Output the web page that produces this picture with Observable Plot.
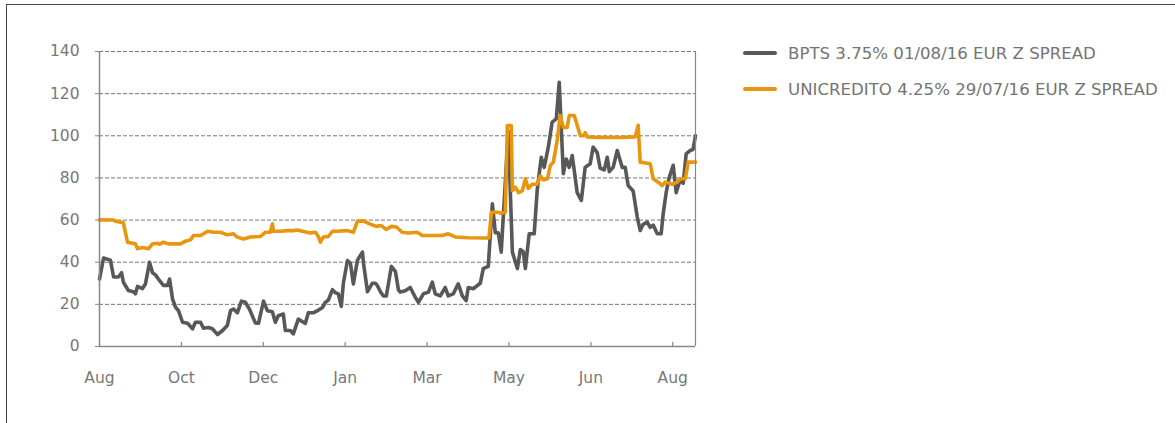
<!DOCTYPE html>
<html>
<head>
<meta charset="utf-8">
<script src="https://cdn.jsdelivr.net/npm/d3@7"></script>
<script src="https://cdn.jsdelivr.net/npm/@observablehq/plot@0.6"></script>
<style>
  html, body { margin: 0; padding: 0; background: #fff; }
  #wrap { position: relative; width: 1175px; height: 423px; overflow: hidden; font-family: "DejaVu Sans", Verdana, sans-serif; }
  #frame { position: absolute; left: 6px; top: 4px; width: 1200px; height: 500px; border-top: 1px solid #444; border-left: 1px solid #444; pointer-events: none; }
  .leg { position: absolute; left: 743px; height: 20px; display: flex; align-items: center; font-size: 16.6px; color: #747474; white-space: nowrap; }
  .sw { width: 34px; height: 4px; border-radius: 2px; margin-right: 11px; }
</style>
</head>
<body>
<div id="wrap">
  <div id="chart"></div>
  <div id="frame"></div>
  <div class="leg" style="top:43px"><div class="sw" style="background:#58585a"></div><span id="l1"></span></div>
  <div class="leg" style="top:79px"><div class="sw" style="background:#e8950f"></div><span id="l2"></span></div>
</div>
<script>
// Series names
const seriesNames = ["BPTS 3.75% 01/08/16 EUR Z SPREAD", "UNICREDITO 4.25% 29/07/16 EUR Z SPREAD"];

// BPTS: trading-day index and spread (bp)
const bptsT = [0,1.8,4.8,6.2,8.3,9.7,10.5,12.7,14.9,15.8,16.7,18.9,20.2,22,23.3,24.6,25.9,28.1,29.9,30.8,32.1,33.4,34.7,36.5,38.7,40.9,42.2,44.4,45.7,47.9,49.6,51.9,54.1,56.2,57.6,58.9,60.6,62.4,64.1,65.9,68.5,69.9,72.1,73.8,76,77.3,78.6,80.8,81.7,83.9,85.2,87.4,89.6,90.5,91.8,94,95.8,98,99.3,100.6,102.4,103.7,105,106.3,107.2,109,110.3,111.6,113.4,115.6,116,117.8,119.9,121.3,122.1,123.5,124.8,126.1,128.3,130.1,131.4,132.2,134.4,136.6,138.8,140.2,142.4,144.6,146.3,147.6,149.8,152,153.3,155.5,157.7,159.5,161.2,162.1,164.3,167.4,168.7,170.9,172.7,174,175.3,176.6,177.9,179.7,181.5,183.7,185,186.3,187.2,188.9,191.1,192.4,194.2,195.5,197.3,199,200.8,202.1,203.9,205.2,206.5,207.8,208.7,210,211.8,213.5,215.7,217,218.8,220.1,221.9,223.2,224.1,225.8,227.6,229.8,231.1,232.4,234.6,236.4,237.7,239,240.8,242.1,243.4,245.2,246.9,247.8,249.1,250.4,252.2,253.5,255.2,256.6,257.9,259.6,260.9,262];
const bptsV = [32,42,41,33,33,35,30.5,26.6,26,25,28.5,27.5,29.7,40,35,34,32,29,29,32,22.6,18.7,17,11.5,11,8.4,11.5,11.5,8.7,9,8.4,5.7,7.6,10,17,17.8,16,21.5,21,17.8,11.2,11,21.5,17,16.5,11.5,14.6,15.4,7.6,7.6,6,13,11.5,11,16,16,17,18.5,21,22,27,25.5,25,19,30,40.8,39.5,29.7,41,44.8,40,26,30,30,29,26,24,24,38,35.5,27,25.8,26.5,28,23.4,21,25,25.8,30.5,25,24,28,24,25,29.7,24,21.8,28,27.4,30,37,38,67.7,54,54,44.8,69,102,44.8,37,46,45,37,53.5,53.5,74,89.8,85,94.6,106.5,108,125.4,82,89,85,90.6,83.5,73,69.3,85,86.7,94.6,92,84.6,83.8,89.8,83,85,93,85,85,76.4,73.8,61.4,55,58,59,56.5,57.6,53.5,53.5,63,73,80,86,73,79,77.5,91.4,93,93.5,100];

// UNICREDITO: trading-day index and spread (bp)
const uniT = [0,6.2,7,10.5,12.3,14.5,15.8,16.7,18.9,21.5,23.3,25.5,26.4,28.1,30.3,35.6,37.8,40,41.3,44.4,45.7,47.5,50.1,53.2,56.2,58.9,60.6,63.3,66.4,70.7,72.9,75.1,76,76.5,79.5,82.6,85.2,87,89.2,92.7,94.9,96.2,97.1,98.4,100.6,102.4,104.5,109,111.6,113.4,116,118.7,121.7,123.9,126.1,128.3,130.5,133.1,135.7,139.7,141.9,144.6,150.7,153.3,156.4,162.1,171.2,172.3,175.3,176.6,178.4,179.3,181,181.5,182.8,184.2,185.9,187.2,188.5,190.2,192.4,193.8,195.1,196.9,198.2,199.5,201.2,202.5,203.9,205.6,206.5,208.7,210,211.4,212.7,213.5,214.4,218.8,223.2,228.9,235.5,236.8,237.7,242.1,243.4,245.6,247.4,248.7,251.8,254,255.2,257.5,258.8,262];
const uniV = [60.1,60,59.5,58.7,49.5,49,48.7,46.4,47,46.4,48.7,49,48.5,49.5,48.7,48.7,50,50.6,52.7,52.7,53.5,54.7,54.2,54.2,53,53.5,51.9,51,52,52.2,54.2,54.2,58.2,54.7,54.7,55,55,55.3,54.7,53.9,54.2,52.2,49.5,52,52.2,54.7,54.7,55,54.2,59.5,59.6,58.2,57,57.4,55.5,57,56.7,54.2,53.9,54.2,52.7,52.7,52.7,53.5,52,51.6,51.5,63.7,63.7,63.2,63.7,104.9,104.9,74,75.6,73,74,79.6,75,77,77,81,79,79.6,86,87.4,97.8,109.6,104,104,109.6,109.6,105,100,100,101.5,99.5,99.2,99.2,99.2,99.5,105,87.5,86.7,79.6,78,76.4,78,77,78,79.6,79.6,87.5,87.5];

// Axis ticks
const yTicks = [0, 20, 40, 60, 80, 100, 120, 140];
const xTicks = [0, 36, 72, 108, 144, 180, 216, 252];
const xLabels = ["Aug", "Oct", "Dec", "Jan", "Mar", "May", "Jun", "Aug"];

const colors = ["#58585a", "#e8950f"];

const bpts = bptsT.map((t, i) => ({t, v: bptsV[i]}));
const uni = uniT.map((t, i) => ({t, v: uniV[i]}));

document.getElementById("l1").textContent = seriesNames[0];
document.getElementById("l2").textContent = seriesNames[1];

const chart = Plot.plot({
  width: 1175,
  height: 423,
  marginLeft: 99,
  marginRight: 480,
  marginTop: 51,
  marginBottom: 77,
  style: {fontFamily: "DejaVu Sans, Verdana, sans-serif", fontSize: "15.5px", color: "#777", background: "transparent"},
  x: {domain: [0, 262], label: null},
  y: {domain: [0, 140], label: null},
  marks: [
    Plot.gridY(yTicks.slice(1), {stroke: "#777", strokeOpacity: 1, strokeWidth: 1, strokeDasharray: "4,2"}),
    Plot.line(bpts, {x: "t", y: "v", stroke: colors[0], strokeWidth: 3.6, strokeLinejoin: "round"}),
    Plot.line(uni, {x: "t", y: "v", stroke: colors[1], strokeWidth: 3.6, strokeLinejoin: "round"}),
    Plot.ruleX([0], {stroke: "#888", strokeWidth: 1.5}),
    Plot.ruleX([262], {stroke: "#888", strokeWidth: 1.2}),
    Plot.ruleY([0], {stroke: "#888", strokeWidth: 1.5}),
    Plot.ruleX(xTicks.slice(1), {y1: 0, y2: 0, insetBottom: 4, stroke: "#888", strokeWidth: 1.2}),
    Plot.axisY(yTicks, {tickSize: 4, tickPadding: 16, stroke: "#888", fill: "#777", label: null}),
    Plot.axisX(xTicks, {tickSize: 0, tickPadding: 25, fill: "#777", label: null, tickFormat: d => xLabels[xTicks.indexOf(d)]})
  ]
});
document.getElementById("chart").appendChild(chart);
</script>
</body>
</html>
